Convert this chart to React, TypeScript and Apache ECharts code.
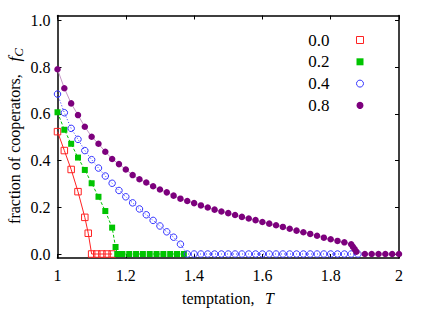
import React, { useEffect, useRef } from "react";
import * as echarts from "echarts";

const FONT = "Liberation Serif";

const T_00 = [1.0, 1.02, 1.04, 1.06, 1.08, 1.09, 1.1, 1.115, 1.13, 1.145, 1.16];
const F_00 = [0.524, 0.443, 0.362, 0.267, 0.157, 0.089, 0, 0, 0, 0, 0];

const T_02 = [1.0, 1.02, 1.04, 1.06, 1.08, 1.1, 1.12, 1.14, 1.16, 1.17, 1.175, 1.19, 1.21, 1.23, 1.25, 1.27, 1.29, 1.31, 1.33, 1.35, 1.37];
const F_02 = [0.607, 0.532, 0.472, 0.413, 0.36, 0.303, 0.245, 0.184, 0.113, 0.03, 0, 0, 0, 0, 0, 0, 0, 0, 0, 0, 0];

const T_04 = [
  1.0, 1.02, 1.04, 1.06, 1.08, 1.1, 1.12, 1.14, 1.16, 1.18, 1.2, 1.22, 1.24, 1.26, 1.28, 1.3, 1.32, 1.34, 1.36,
  1.38, 1.4, 1.42, 1.44, 1.46, 1.48, 1.5, 1.52, 1.54, 1.56, 1.58, 1.6, 1.62, 1.64, 1.66, 1.68, 1.7, 1.72, 1.74,
  1.76, 1.78, 1.8, 1.82, 1.84, 1.86, 1.88,
];
const F_04 = [
  0.685, 0.605, 0.538, 0.491, 0.443, 0.404, 0.368, 0.334, 0.303, 0.272, 0.245, 0.219, 0.193, 0.168, 0.144, 0.12,
  0.095, 0.072, 0.042, 0, 0, 0, 0, 0, 0, 0, 0, 0, 0, 0, 0, 0, 0, 0, 0, 0, 0, 0, 0, 0, 0, 0, 0, 0, 0,
];

const T_08 = [
  1.0, 1.02, 1.04, 1.06, 1.08, 1.1, 1.12, 1.14, 1.16, 1.18, 1.2, 1.22, 1.24, 1.26, 1.28, 1.3, 1.32, 1.34, 1.36,
  1.38, 1.4, 1.42, 1.44, 1.46, 1.48, 1.5, 1.52, 1.54, 1.56, 1.58, 1.6, 1.62, 1.64, 1.66, 1.68, 1.7, 1.72, 1.74,
  1.76, 1.78, 1.8, 1.82, 1.84, 1.86, 1.865, 1.87, 1.875, 1.9, 1.92, 1.94, 1.96, 1.98, 2.0,
];
const F_08 = [
  0.791, 0.71, 0.645, 0.595, 0.545, 0.502, 0.472, 0.438, 0.407, 0.385, 0.362, 0.338, 0.32, 0.306, 0.29, 0.276,
  0.264, 0.25, 0.237, 0.227, 0.218, 0.208, 0.199, 0.19, 0.182, 0.175, 0.167, 0.159, 0.152, 0.145, 0.137, 0.13,
  0.123, 0.116, 0.108, 0.1, 0.093, 0.086, 0.078, 0.07, 0.063, 0.056, 0.05, 0.042, 0.031, 0.021, 0.01, 0, 0, 0, 0,
  0, 0,
];

const SERIES_NAMES = ["0.0", "0.2", "0.4", "0.8"];
const Y_TICKS = [0, 0.2, 0.4, 0.6, 0.8, 1.0];

const RED = "#ff2222";
const GREEN = "#00c400";
const BLUE = "#3535ff";
const PURPLE = "#7d007d";
const CLEAR = "rgba(255,255,255,0)";

const pairs = (t: number[], f: number[]) => t.map((v, i) => [v, f[i]]);

export default function App() {
  const ref = useRef<HTMLDivElement>(null);
  useEffect(() => {
    if (!ref.current) return;
    const chart = echarts.init(ref.current, null, { renderer: "svg" });
    const axisLine = { show: true, onZero: false, lineStyle: { color: "#000", width: 1.5 } };
    const tick = { show: true, inside: true, length: 4, lineStyle: { color: "#000", width: 1 } };
    const serif16 = { fontFamily: FONT, fontSize: 16, color: "#000", fill: "#000" };
    const option: any = {
      animation: false,
      backgroundColor: "#fff",
      textStyle: { fontFamily: FONT },
      grid: { left: 57.5, right: 37, top: 15.5, bottom: 51, containLabel: false },
      xAxis: [
        {
          type: "value", min: 1, max: 2, interval: 0.2, position: "bottom",
          axisLine, axisTick: tick, splitLine: { show: false },
          axisLabel: {
            margin: 9, fontFamily: FONT, fontSize: 16, color: "#000",
            formatter: (v: number) => `{s|${Math.round(v * 10) / 10}}`,
            rich: { s: serif16 },
          },
        },
        {
          type: "value", min: 1, max: 2, interval: 0.2, position: "top",
          axisLine, axisTick: tick, splitLine: { show: false }, axisLabel: { show: false },
        },
      ],
      yAxis: [
        {
          type: "value", min: -0.0171, max: 1.0214, position: "left",
          axisLine, splitLine: { show: false },
          axisTick: { ...tick, customValues: Y_TICKS },
          axisLabel: {
            margin: 7, fontFamily: FONT, fontSize: 16, color: "#000", customValues: Y_TICKS,
            formatter: (v: number) => `{s|${v.toFixed(1)}}`,
            rich: { s: serif16 },
          },
        },
        {
          type: "value", min: -0.0171, max: 1.0214, position: "right",
          axisLine, splitLine: { show: false },
          axisTick: { ...tick, customValues: Y_TICKS },
          axisLabel: { show: false },
        },
      ],
      legend: {
        orient: "vertical", right: 67, top: 26.5, align: "right",
        itemWidth: 7, itemHeight: 7, itemGap: 4.8,
        formatter: (n: string) => `{s|${n}}`,
        textStyle: {
          fontFamily: FONT, fontSize: 17, color: "#000", lineHeight: 16, padding: [0, 22, 0, 0],
          rich: { s: { fontFamily: FONT, fontSize: 17, lineHeight: 16, color: "#000", fill: "#000" } },
        },
        data: [
          { name: SERIES_NAMES[0], icon: "rect", itemStyle: { color: "#fff", borderColor: RED, borderWidth: 1 } },
          { name: SERIES_NAMES[1], icon: "rect", itemStyle: { color: GREEN, borderWidth: 0 } },
          { name: SERIES_NAMES[2], icon: "circle", itemStyle: { color: "#fff", borderColor: BLUE, borderWidth: 1 } },
          { name: SERIES_NAMES[3], icon: "circle", itemStyle: { color: PURPLE, borderWidth: 0 } },
        ],
      },
      series: [
        {
          name: SERIES_NAMES[0], type: "line", data: pairs(T_00, F_00), clip: false,
          symbol: "rect", symbolSize: 6.5, showSymbol: true,
          lineStyle: { color: RED, width: 1 },
          itemStyle: { color: CLEAR, borderColor: RED, borderWidth: 1 },
          emphasis: { disabled: true }, z: 2,
        },
        {
          name: SERIES_NAMES[1], type: "line", data: pairs(T_02, F_02), clip: false,
          symbol: "rect", symbolSize: 6, showSymbol: true,
          lineStyle: { color: GREEN, width: 1, type: [3, 2] },
          itemStyle: { color: GREEN, borderWidth: 0 },
          emphasis: { disabled: true }, z: 3,
        },
        {
          name: SERIES_NAMES[2], type: "line", data: pairs(T_04, F_04), clip: false,
          symbol: "circle", symbolSize: 6.5, showSymbol: true,
          lineStyle: { color: BLUE, width: 1, type: [1, 2] },
          itemStyle: { color: CLEAR, borderColor: BLUE, borderWidth: 1 },
          emphasis: { disabled: true }, z: 4,
        },
        {
          name: SERIES_NAMES[3], type: "line", data: pairs(T_08, F_08), clip: false,
          symbol: "circle", symbolSize: 6.5, showSymbol: true,
          lineStyle: { color: "#c595c5", width: 1 },
          itemStyle: { color: PURPLE, borderWidth: 0 },
          emphasis: { disabled: true }, z: 5,
        },
      ],
      graphic: [
        {
          type: "text", x: 182, y: 298,
          style: { text: "temptation,", font: `16px ${FONT}`, fill: "#000", verticalAlign: "middle", align: "left" },
        },
        {
          type: "text", x: 265, y: 298,
          style: { text: "T", font: `italic 16px ${FONT}`, fill: "#000", verticalAlign: "middle", align: "left" },
        },
        {
          type: "text", x: 14, y: 136, rotation: Math.PI / 2,
          style: {
            text: "{a|fraction of cooperators,}{f|   f}{c|C}",
            align: "center", verticalAlign: "middle", fill: "#000",
            rich: {
              a: { fontFamily: FONT, fontSize: 16, lineHeight: 22, verticalAlign: "middle", fill: "#000" },
              f: { fontFamily: FONT, fontSize: 17, fontStyle: "italic", lineHeight: 22, verticalAlign: "middle", fill: "#000" },
              c: { fontFamily: FONT, fontSize: 13, fontStyle: "italic", lineHeight: 13, verticalAlign: "bottom", fill: "#000" },
            },
          },
        },
      ],
    };
    chart.setOption(option);
    return () => chart.dispose();
  }, []);
  return (
    <div
      ref={ref}
      style={{ position: "fixed", left: 0, top: 0, width: 436, height: 309, background: "#fff" }}
    />
  );
}
